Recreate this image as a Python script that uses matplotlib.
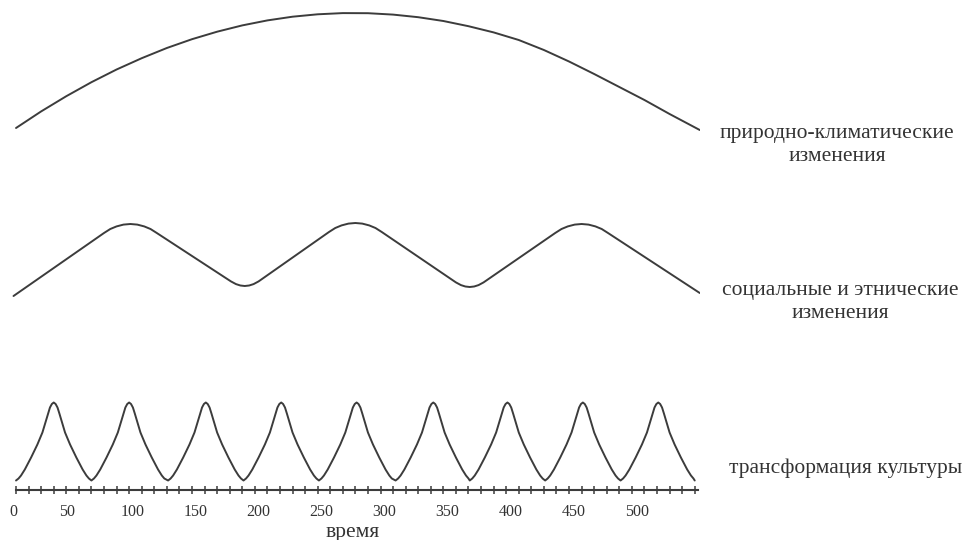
import matplotlib.pyplot as plt
from matplotlib.transforms import ScaledTranslation

plt.rcParams['font.family'] = ['Liberation Serif', 'DejaVu Serif']

W, H = 967, 540
line_color = '#3c3c3c'
text_color = '#333333'

# высота кривых отсчитывается от оси времени
nature_x = [0, 20, 40, 60, 80, 100, 120, 140, 160, 180, 200, 220, 240, 260,
            280, 300, 320, 340, 360, 380, 400, 420, 440, 460, 480, 500, 520, 544]
nature_y = [362, 378.6, 393.8, 407.8, 420.5, 431.8, 442, 450.8, 458.3, 464.6,
            469.6, 473.3, 475.7, 476.9, 476.8, 475.4, 472.8, 469, 463.8, 457.6,
            450, 440, 428.5, 416, 403, 390, 376, 360]

social_x = [-2,
            70, 75, 80, 85.5, 91, 96.5, 102, 107, 112,
            171, 175, 178.5, 182, 185.5, 189, 193,
            249, 254, 259, 264.5, 270, 275.5, 281, 286, 291,
            350, 354, 357.5, 361, 364.5, 368, 372,
            429, 434, 439, 444.5, 450, 455.5, 461, 466, 471,
            544]
social_y = [194,
            257, 261, 263.6, 265.4, 266, 265.4, 263.6, 261, 257,
            208.6, 205.9, 204.5, 204, 204.5, 205.9, 208.6,
            258, 262, 264.6, 266.4, 267, 266.4, 264.6, 262, 258,
            207.6, 204.9, 203.5, 203, 203.5, 204.9, 207.6,
            257, 261, 263.6, 265.4, 266, 265.4, 263.6, 261, 257,
            197]

# трансформация культуры: положения пиков и форма одного цикла
culture_peaks = [30, 90, 151, 211, 271, 332, 391, 451, 511]
culture_dx = [-30, -28, -26, -23, -18, -13, -9, -6.4, -4.5, -3, -1.5, 0,
              1.5, 3, 4.5, 6.4, 9, 13, 18, 23, 26, 28]
culture_h = [0, 2, 5, 11, 23, 36, 48, 59, 67, 73, 76.5, 78,
             76.5, 73, 67, 59, 48, 36, 23, 11, 5, 2]
culture_base = 9.5
culture_end = 540

major_ticks = [0, 50, 100, 150, 200, 250, 300, 350, 400, 450, 500]
label_shift = [-3, -12, -9, -9, -9, -9, -9, -9, -8, -8, -7]  # px, as in the scan
axis_end = 543

labels = ['природно-климатические\nизменения',
          'социальные и этнические\nизменения',
          'трансформация культуры']
label_pos = [(837, 145), (840, 302), (846, 468)]

culture_x = []
culture_y = []
for p in culture_peaks:
    culture_x += [p + d for d in culture_dx]
    culture_y += [culture_base + h for h in culture_h]
culture_x.append(culture_end)
culture_y.append(culture_base)

fig = plt.figure(figsize=(W / 100, H / 100), dpi=100)
ax = fig.add_axes([12 / W, 50 / H, 688 / W, 490 / H])

for xs, ys in [(nature_x, nature_y), (social_x, social_y), (culture_x, culture_y)]:
    ax.plot(xs, ys, color=line_color, lw=1.4, solid_capstyle='round',
            solid_joinstyle='round')

ax.set_xlim(-3.2, 544.2)
ax.set_ylim(0, 490)

for s in ['top', 'right', 'left']:
    ax.spines[s].set_visible(False)
ax.spines['bottom'].set_bounds(0, axis_end)
ax.spines['bottom'].set_color(line_color)
ax.spines['bottom'].set_linewidth(1.5)
ax.set_yticks([])

ax.set_xticks(major_ticks)
ax.set_xticks(range(0, 541, 10), minor=True)
ax.tick_params(axis='x', which='both', direction='inout', length=6, width=1.1,
               color=line_color)
ax.tick_params(axis='x', which='major', labelsize=11.5, labelcolor=text_color, pad=7)

for lbl, dx in zip(ax.get_xticklabels(), label_shift):
    lbl.set_transform(lbl.get_transform() + ScaledTranslation(dx / 100, 0, fig.dpi_scale_trans))

fig.text(353 / W, 1 - 532 / H, 'время', ha='center', va='center',
         fontsize=15.5, color=text_color)

for lab, (px, py) in zip(labels, label_pos):
    fig.text(px / W, 1 - py / H, lab, ha='center', va='center',
             fontsize=15.5, color=text_color, linespacing=1.35)

fig.savefig('out.png', dpi=100)
